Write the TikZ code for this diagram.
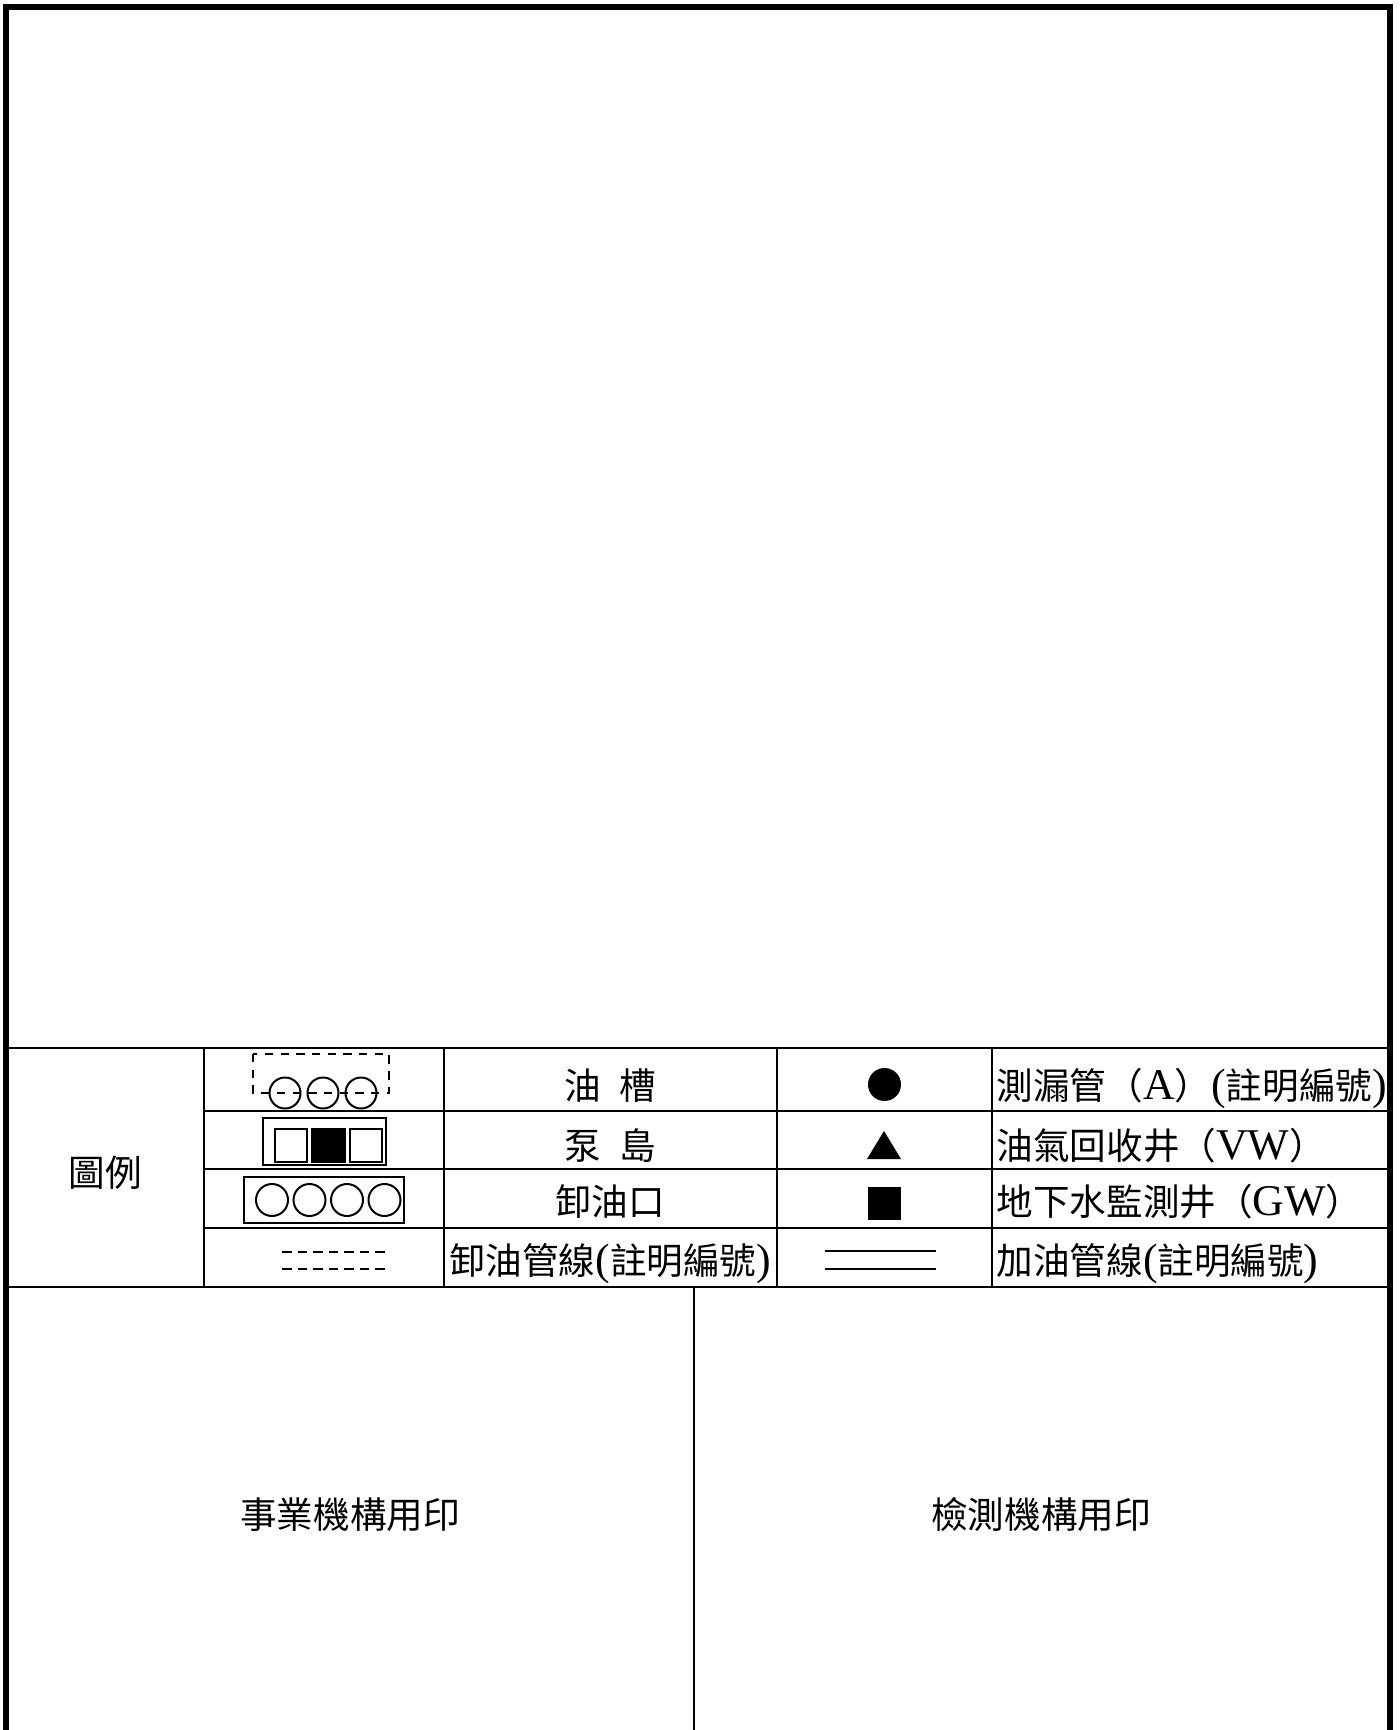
\documentclass[tikz,border=0pt]{standalone}
\usepackage{fontspec}
\setmainfont{Noto Sans CJK TC}
\newfontfamily\latinfont[Scale=1.2]{Liberation Serif}
\tikzset
{
    outerline/.style = {line width=0.06cm},
    cellline/.style  = {line width=0.02cm},
    symline/.style   = {line width=0.02cm},
    cjktext/.style   = {inner sep=0pt, anchor=base, font=\fontsize{10.4pt}{12pt}\selectfont},
    lefttext/.style  = {cjktext, anchor=base west},
    tankdash/.style  = {symline, dash pattern=on 0.083cm off 0.074cm},
    pipedash/.style  = {symline, dash pattern=on 0.095cm off 0.06cm}
}

\begin{document}
\begin{tikzpicture}[x=0.01cm, y=-0.01cm]
	\useasboundingbox (0,0) rectangle (1400,1730);
	\fill [white] (0,0) rectangle (1400,1730);

	\draw [outerline] (6,1730) -- (6,7) -- (1390,7) -- (1390,1730);
	\draw [cellline] (6,1048) -- (1390,1048);
	\draw [cellline] (204,1111) -- (1390,1111);
	\draw [cellline] (204,1169) -- (1390,1169);
	\draw [cellline] (204,1228) -- (1390,1228);
	\draw [cellline] (6,1287) -- (1390,1287);
	\draw [cellline] (204,1048) -- (204,1287);
	\draw [cellline] (444,1048) -- (444,1287);
	\draw [cellline] (777,1048) -- (777,1287);
	\draw [cellline] (992,1048) -- (992,1287);
	\draw [cellline] (694,1287) -- (694,1730);

	\draw [tankdash] (253,1054) rectangle (389,1093);
	\draw [symline] (285,1093) circle (15.5) (323,1093) circle (15.5) (361,1093) circle (15.5);

	\draw [symline] (263,1118) rectangle (386,1165);
	\draw [symline] (275,1129) rectangle (307,1162);
	\filldraw [symline] (312,1129) rectangle (345,1162);
	\draw [symline] (350,1129) rectangle (382,1162);

	\draw [symline] (244,1177) rectangle (404,1223);
	\draw [symline] (272,1200) circle (16) (309.5,1200) circle (16) (347,1200) circle (16) (384.5,1200) circle (16);

	\draw [pipedash] (282,1252) -- (385,1252);
	\draw [pipedash] (282,1269) -- (385,1269);

	\fill (884.5,1084.5) circle (16.5);
	\fill (867,1159) -- (901,1159) -- (884,1131) -- cycle;
	\fill (868,1187) rectangle (901,1220);
	\draw [cellline] (825,1251) -- (936,1251);
	\draw [cellline] (825,1269) -- (936,1269);

	\node (legend) [cjktext] at (105,1186) {圖例};
	\node (tank) [cjktext] at (610,1099.5) {油\hspace{0.5em}槽};
	\node (pump) [cjktext] at (610,1159) {泵\hspace{0.5em}島};
	\node (port) [cjktext] at (610,1215.5) {卸油口};
	\node (unloadpipe) [cjktext] at (610,1274) {卸油管線{\latinfont(}註明編號{\latinfont)}};
	\node (leakpipe) [lefttext] at (996,1099.5) {測漏管（{\latinfont A}）{\latinfont(}註明編號{\latinfont)}};
	\node (vapourwell) [lefttext] at (996,1159) {油氣回收井（{\latinfont VW}）};
	\node (gwwell) [lefttext] at (996,1215.5) {地下水監測井（{\latinfont GW}）};
	\node (fillpipe) [lefttext] at (996,1274) {加油管線{\latinfont(}註明編號{\latinfont)}};
	\node (ownerseal) [cjktext] at (350,1528) {事業機構用印};
	\node (testerseal) [cjktext] at (1041,1528) {檢測機構用印};
\end{tikzpicture}
\end{document}
